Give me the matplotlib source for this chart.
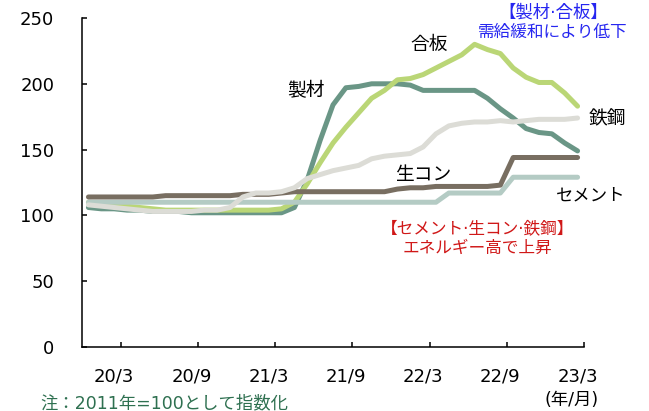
import numpy as np
import pandas as pd
import matplotlib
matplotlib.use("Agg")
import matplotlib.pyplot as plt

plt.rcParams['font.family'] = ['DejaVu Sans', 'Noto Sans CJK JP']

# monthly, 2020/1 - 2023/3 (2011 = 100)
months = pd.period_range("2020-01", "2023-03", freq="M")

seizai = [106, 105, 105, 104, 104, 103, 103, 103, 102, 102, 102, 102, 102,
          102, 102, 102, 106, 127, 157, 184, 197, 198, 200, 200, 200, 199,
          195, 195, 195, 195, 195, 189, 181, 174, 166, 163, 162, 155, 149]
gouban = [110, 109, 108, 107, 106, 105, 104, 104, 104, 104, 104, 104, 104,
          104, 104, 105, 110, 124, 140, 155, 167, 178, 189, 195, 203, 204,
          207, 212, 217, 222, 230, 226, 223, 212, 205, 201, 201, 193, 183]
tekkou = [108, 107, 106, 105, 104, 103, 103, 103, 103, 104, 104, 106, 114,
          117, 117, 118, 121, 128, 131, 134, 136, 138, 143, 145, 146, 147,
          152, 162, 168, 170, 171, 171, 172, 171, 172, 173, 173, 173, 174]
namacon = [114, 114, 114, 114, 114, 114, 115, 115, 115, 115, 115, 115, 116,
           116, 116, 117, 118, 118, 118, 118, 118, 118, 118, 118, 120, 121,
           121, 122, 122, 122, 122, 122, 123, 144, 144, 144, 144, 144, 144]
cement = [110, 110, 110, 110, 110, 110, 110, 110, 110, 110, 110, 110, 110,
          110, 110, 110, 110, 110, 110, 110, 110, 110, 110, 110, 110, 110,
          110, 110, 117, 117, 117, 117, 117, 129, 129, 129, 129, 129, 129]

tick_labels = ["20/3", "20/9", "21/3", "21/9", "22/3", "22/9", "23/3"]

x = np.arange(len(months))

fig = plt.figure(figsize=(6.49, 4.11), dpi=100)
ax = fig.add_axes([82 / 649, 64 / 411, 502 / 649, 329 / 411])

lw = 3.6
ax.plot(x, seizai, color="#6a9686", lw=lw, solid_capstyle="round", zorder=2)
ax.plot(x, gouban, color="#bad676", lw=lw, solid_capstyle="round", zorder=3)
ax.plot(x, cement, color="#b4cbc4", lw=lw, solid_capstyle="round", zorder=4)
ax.plot(x, namacon, color="#786e61", lw=lw, solid_capstyle="round", zorder=5)
ax.plot(x, tekkou, color="#dcdcd6", lw=lw, solid_capstyle="round", zorder=6)

ax.set_xlim(-0.5, len(months) - 0.5)
ax.set_ylim(0, 250)
ax.set_yticks(np.arange(0, 251, 50))

# labels sit on the month, tick marks between months
label_pos = [i for i, m in enumerate(months) if m.month in (3, 9)]
ax.set_xticks(label_pos)
ax.set_xticklabels(tick_labels)
ax.set_xticks([p + 0.5 for p in label_pos], minor=True)
ax.tick_params(axis="x", which="major", length=0, pad=15, labelsize=13)
ax.tick_params(axis="x", which="minor", direction="in", length=3.5, width=1.1)
ax.tick_params(axis="y", direction="in", length=3.5, width=1.1, pad=20,
               labelsize=13)

for s in ("top", "right"):
    ax.spines[s].set_visible(False)
for s in ("left", "bottom"):
    ax.spines[s].set_linewidth(1.1)

fs = 13.5
ax.text(26.45, 230, "合板", fontsize=fs, ha="center", va="center")
ax.text(16.9, 194.5, "製材", fontsize=fs, ha="center", va="center")
ax.text(40.3, 173, "鉄鋼", fontsize=fs, ha="center", va="center", clip_on=False)
ax.text(26.0, 131, "生コン", fontsize=fs, ha="center", va="center")
ax.text(39.0, 115, "セメント", fontsize=12.5, ha="center", va="center",
        clip_on=False)

ax.text(36.1, 254.5, "【製材·合板】", fontsize=12.5, color="#2626f0",
        ha="center", va="center", clip_on=False)
ax.text(36.1, 239.5, "需給緩和により低下", fontsize=12, color="#2626f0",
        ha="center", va="center", clip_on=False)
ax.text(30.2, 90.5, "【セメント·生コン·鉄鋼】", fontsize=12, color="#d01818",
        ha="center", va="center")
ax.text(30.2, 75.2, "エネルギー高で上昇", fontsize=12, color="#d01818",
        ha="center", va="center")

ax.text(37.5, -40.5, "(年/月)", fontsize=12.5, ha="center", va="center",
        clip_on=False)
fig.text(40 / 649, 1 - 403 / 411, "注：2011年=100として指数化", fontsize=12.5,
         color="#2e7050", ha="left", va="center")

fig.savefig("out.png", dpi=100)
